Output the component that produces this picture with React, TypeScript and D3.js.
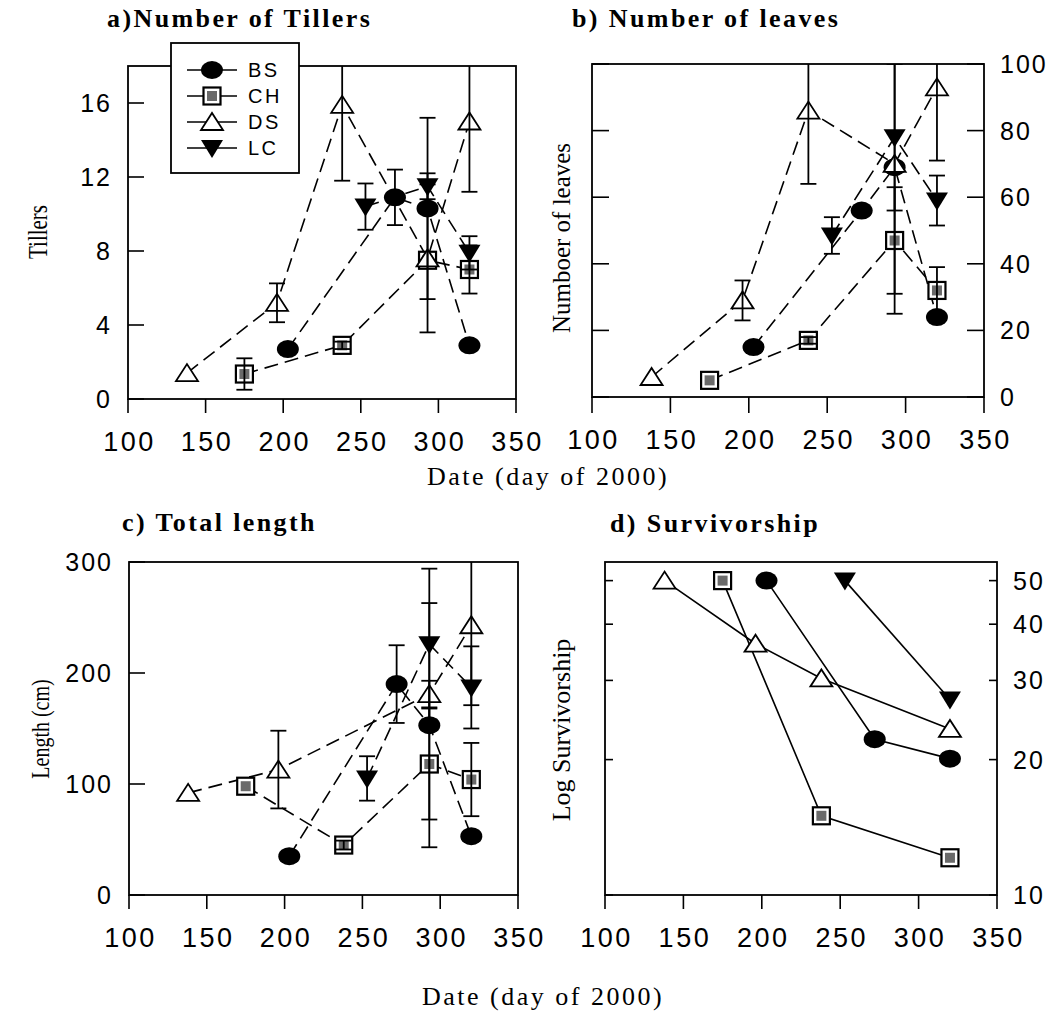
import React, { useEffect, useRef } from 'react';
import * as d3 from 'd3';

// sampling days for each site
const bsDays = [203, 272, 293, 320];
const chDays = [175, 238, 293, 320];
const dsDays = [138, 196, 238, 293, 320];
const lcDays = [253, 293, 320];

// a) number of tillers (mean, error)
const tillersBS = [2.7, 10.9, 10.3, 2.9];
const tillersBSErr = [0, 1.5, 4.9, 0];
const tillersCH = [1.35, 2.9, 7.5, 7.0];
const tillersCHErr = [0.85, 0.2, 0, 1.3];
const tillersDS = [1.4, 5.2, 15.9, 7.6, 15.0];
const tillersDSErr = [0, 1.05, 4.1, 4.0, 3.8];
const tillersLC = [10.4, 11.5, 7.9];
const tillersLCErr = [1.25, 0.7, 0.9];

// b) number of leaves
const leavesBS = [15, 56, 69, 24];
const leavesBSErr = [0, 0, 0, 0];
const leavesCH = [5, 17, 47, 32];
const leavesCHErr = [0, 1, 16, 7];
const leavesDS = [6, 29, 86, 70, 93];
const leavesDSErr = [0, 6, 22, 45, 22];
const leavesLC = [48.5, 78, 59];
const leavesLCErr = [5.5, 22, 7.5];

// c) total length (cm)
const lengthBS = [35, 190, 153, 53];
const lengthBSErr = [0, 35, 110, 0];
const lengthCH = [98, 45, 118, 104];
const lengthCHErr = [0, 4, 50, 33];
const lengthDS = [92, 113, null, 181, 243];
const lengthDSErr = [0, 35, 0, 12, 72];
const lengthLC = [105, 226, 187];
const lengthLCErr = [20, 68, 37];

// d) survivorship
const survBS = [50, 22.2, null, 20.1];
const survCH = [50, 15, null, 12.1];
const survDS = [50, 36.2, 30.3, null, 23.4];
const survLC = [50, null, 27.2];

const dayTicks = [100, 150, 200, 250, 300, 350];
const tillerTicks = [0, 4, 8, 12, 16];
const leafTicks = [0, 20, 40, 60, 80, 100];
const lengthTicks = [0, 100, 200, 300];
const survTicks = [10, 20, 30, 40, 50];

const legendNames = ['BS', 'CH', 'DS', 'LC'];

const SANS = '"Liberation Sans", Arial, sans-serif';
const SERIF = '"Liberation Serif", "Times New Roman", serif';

type Series = { name: string; days: number[]; values: (number | null)[]; errs?: number[] };

const mk = (name: string, days: number[], values: (number | null)[], errs?: number[]): Series => ({ name, days, values, errs });

const addMarker = (g: any, name: string, cx: number, cy: number) => {
  if (name === 'BS') {
    g.append('ellipse').attr('cx', cx).attr('cy', cy).attr('rx', 11).attr('ry', 9).attr('fill', '#000');
  } else if (name === 'CH') {
    g.append('rect').attr('x', cx - 8.5).attr('y', cy - 8.5).attr('width', 17).attr('height', 17)
      .attr('fill', '#fff').attr('stroke', '#000').attr('stroke-width', 2.2);
    g.append('rect').attr('x', cx - 5).attr('y', cy - 5).attr('width', 10).attr('height', 10).attr('fill', '#6a6a6a');
  } else if (name === 'DS') {
    g.append('path').attr('d', `M${cx - 11},${cy + 8}L${cx + 11},${cy + 8}L${cx},${cy - 9}Z`)
      .attr('fill', '#fff').attr('stroke', '#000').attr('stroke-width', 1.8).attr('stroke-linejoin', 'miter');
  } else {
    g.append('path').attr('d', `M${cx - 11},${cy - 8}L${cx + 11},${cy - 8}L${cx},${cy + 10}Z`).attr('fill', '#000');
  }
};

const App = () => {
  const ref = useRef<SVGSVGElement>(null);

  useEffect(() => {
    const svg = d3.select(ref.current);
    svg.selectAll('*').remove();

    const panels = [
      {
        id: 'a', box: { left: 128, right: 516, top: 66, bottom: 399 },
        y: d3.scaleLinear().domain([0, 18]), ticks: tillerTicks, labelSide: 'left', tickLen: 16, bothSides: false, xTick: 14,
        dashed: true,
        series: [
          mk('BS', bsDays, tillersBS, tillersBSErr), mk('CH', chDays, tillersCH, tillersCHErr),
          mk('DS', dsDays, tillersDS, tillersDSErr), mk('LC', lcDays, tillersLC, tillersLCErr),
        ],
      },
      {
        id: 'b', box: { left: 592, right: 984, top: 64, bottom: 397 },
        y: d3.scaleLinear().domain([0, 100]), ticks: leafTicks, labelSide: 'right', tickLen: 17, bothSides: true, xTick: 16,
        dashed: true,
        series: [
          mk('BS', bsDays, leavesBS, leavesBSErr), mk('CH', chDays, leavesCH, leavesCHErr),
          mk('DS', dsDays, leavesDS, leavesDSErr), mk('LC', lcDays, leavesLC, leavesLCErr),
        ],
      },
      {
        id: 'c', box: { left: 129, right: 518, top: 562, bottom: 895 },
        y: d3.scaleLinear().domain([0, 300]), ticks: lengthTicks, labelSide: 'left', tickLen: 16, bothSides: false, xTick: 14,
        dashed: true,
        series: [
          mk('BS', bsDays, lengthBS, lengthBSErr), mk('CH', chDays, lengthCH, lengthCHErr),
          mk('DS', dsDays, lengthDS, lengthDSErr), mk('LC', lcDays, lengthLC, lengthLCErr),
        ],
      },
      {
        id: 'd', box: { left: 605, right: 997, top: 562, bottom: 895 },
        y: d3.scaleLog().domain([10, 55]), ticks: survTicks, labelSide: 'right', tickLen: 8, bothSides: true, xTick: 14,
        dashed: false,
        series: [
          mk('BS', bsDays, survBS), mk('CH', chDays, survCH),
          mk('DS', dsDays, survDS), mk('LC', lcDays, survLC),
        ],
      },
    ];

    panels.forEach((p) => {
      const { left, right, top, bottom } = p.box;
      const x = d3.scaleLinear().domain([100, 350]).range([left, right]);
      const y = (p.y as any).range([bottom, top]);
      const g = svg.append('g');

      g.append('clipPath').attr('id', `clip-${p.id}`)
        .append('rect').attr('x', left).attr('y', top).attr('width', right - left).attr('height', bottom - top);

      // frame
      g.append('rect').attr('x', left).attr('y', top).attr('width', right - left).attr('height', bottom - top)
        .attr('fill', 'none').attr('stroke', '#000').attr('stroke-width', 1.8);

      // x ticks and labels
      dayTicks.forEach((t) => {
        g.append('line').attr('x1', x(t)).attr('x2', x(t)).attr('y1', bottom).attr('y2', bottom + p.xTick)
          .attr('stroke', '#000').attr('stroke-width', 1.6);
        g.append('text').attr('x', x(t) + 1.5).attr('y', bottom + 43).attr('text-anchor', 'middle')
          .attr('dominant-baseline', 'central').attr('font-family', SANS).attr('font-size', 27)
          .attr('letter-spacing', 2.5).text(t);
      });

      // y ticks and labels
      p.ticks.forEach((t) => {
        const yy = y(t);
        if (p.labelSide === 'left' || p.bothSides) {
          g.append('line').attr('x1', left).attr('x2', left + p.tickLen).attr('y1', yy).attr('y2', yy)
            .attr('stroke', '#000').attr('stroke-width', 1.6);
        }
        if (p.labelSide === 'right' || p.bothSides) {
          g.append('line').attr('x1', right).attr('x2', right - p.tickLen).attr('y1', yy).attr('y2', yy)
            .attr('stroke', '#000').attr('stroke-width', 1.6);
        }
        const lt = g.append('text').attr('y', yy).attr('dominant-baseline', 'central')
          .attr('font-family', SANS).attr('font-size', 25).attr('letter-spacing', 2).text(t);
        if (p.labelSide === 'left') lt.attr('x', left - 16).attr('text-anchor', 'end');
        else lt.attr('x', right + 16).attr('text-anchor', 'start');
      });

      const plot = g.append('g');
      const bars = g.append('g').attr('clip-path', `url(#clip-${p.id})`);

      p.series.forEach((s) => {
        const pts = s.days
          .map((d, i) => ({ d, v: s.values[i], e: s.errs ? s.errs[i] : 0 }))
          .filter((q) => q.v !== null) as { d: number; v: number; e: number }[];
        const line = d3.line<{ d: number; v: number }>().x((q) => x(q.d)).y((q) => y(q.v));
        plot.append('path').attr('d', line(pts)).attr('fill', 'none').attr('stroke', '#000')
          .attr('stroke-width', 1.6).attr('stroke-dasharray', p.dashed ? '14 7' : null);
        pts.forEach((q) => {
          if (q.e > 0) {
            const cx = x(q.d);
            const y1 = y(q.v + q.e);
            const y2 = y(q.v - q.e);
            bars.append('line').attr('x1', cx).attr('x2', cx).attr('y1', y1).attr('y2', y2)
              .attr('stroke', '#000').attr('stroke-width', 1.8);
            [y1, y2].forEach((yc) => {
              bars.append('line').attr('x1', cx - 8).attr('x2', cx + 8).attr('y1', yc).attr('y2', yc)
                .attr('stroke', '#000').attr('stroke-width', 1.8);
            });
          }
        });
      });
      p.series.forEach((s) => {
        s.days.forEach((d, i) => {
          const v = s.values[i];
          if (v !== null) addMarker(plot, s.name, x(d), y(v));
        });
      });
      g.node()!.appendChild(bars.node()!);
    });

    // legend in panel a
    const lg = svg.append('g');
    lg.append('rect').attr('x', 171).attr('y', 43).attr('width', 128).attr('height', 130)
      .attr('fill', '#fff').attr('stroke', '#000').attr('stroke-width', 1.8);
    legendNames.forEach((n, i) => {
      const ly = 70 + i * 26;
      lg.append('line').attr('x1', 187).attr('x2', 237).attr('y1', ly).attr('y2', ly)
        .attr('stroke', '#000').attr('stroke-width', 1.5);
      addMarker(lg, n, 212, ly);
      lg.append('text').attr('x', 248).attr('y', ly).attr('dominant-baseline', 'central')
        .attr('font-family', SANS).attr('font-size', 20).attr('letter-spacing', 2.5).text(n);
    });

    // titles
    const titles = [
      { t: 'a)Number of Tillers', x: 107, y: 27 },
      { t: 'b) Number of leaves', x: 572, y: 27 },
      { t: 'c) Total length', x: 122, y: 531 },
      { t: 'd) Survivorship', x: 610, y: 532 },
    ];
    titles.forEach((d) => {
      svg.append('text').attr('x', d.x).attr('y', d.y).attr('font-family', SERIF).attr('font-weight', 'bold')
        .attr('font-size', 26).attr('letter-spacing', 2.4).text(d.t);
    });

    // x axis titles
    [{ x: 427, y: 485 }, { x: 422, y: 1005 }].forEach((d) => {
      svg.append('text').attr('x', d.x).attr('y', d.y).attr('font-family', SERIF)
        .attr('font-size', 26).attr('letter-spacing', 2.5).text('Date (day of 2000)');
    });

    // y axis titles (glyphs in the reference look widened across the axis)
    const yTitles = [
      { t: 'Tillers', x: 37, y: 232, s: 21, k: 1.3 },
      { t: 'Numboer of leaves', x: 561, y: 238, s: 25, k: 1 },
      { t: 'Length (cm)', x: 40, y: 729, s: 20, k: 1.3 },
      { t: 'Log Survivorship', x: 561, y: 730, s: 26, k: 1 },
    ];
    yTitles.forEach((d) => {
      svg.append('text').attr('transform', `translate(${d.x},${d.y}) scale(${d.k},1) rotate(-90)`)
        .attr('text-anchor', 'middle').attr('dominant-baseline', 'central')
        .attr('font-family', SERIF).attr('font-size', d.s).text(d.t);
    });
  }, []);

  return (
    <svg ref={ref} width={1054} height={1012} style={{ position: 'absolute', left: 0, top: 0, background: '#fff' }} />
  );
};

export default App;
